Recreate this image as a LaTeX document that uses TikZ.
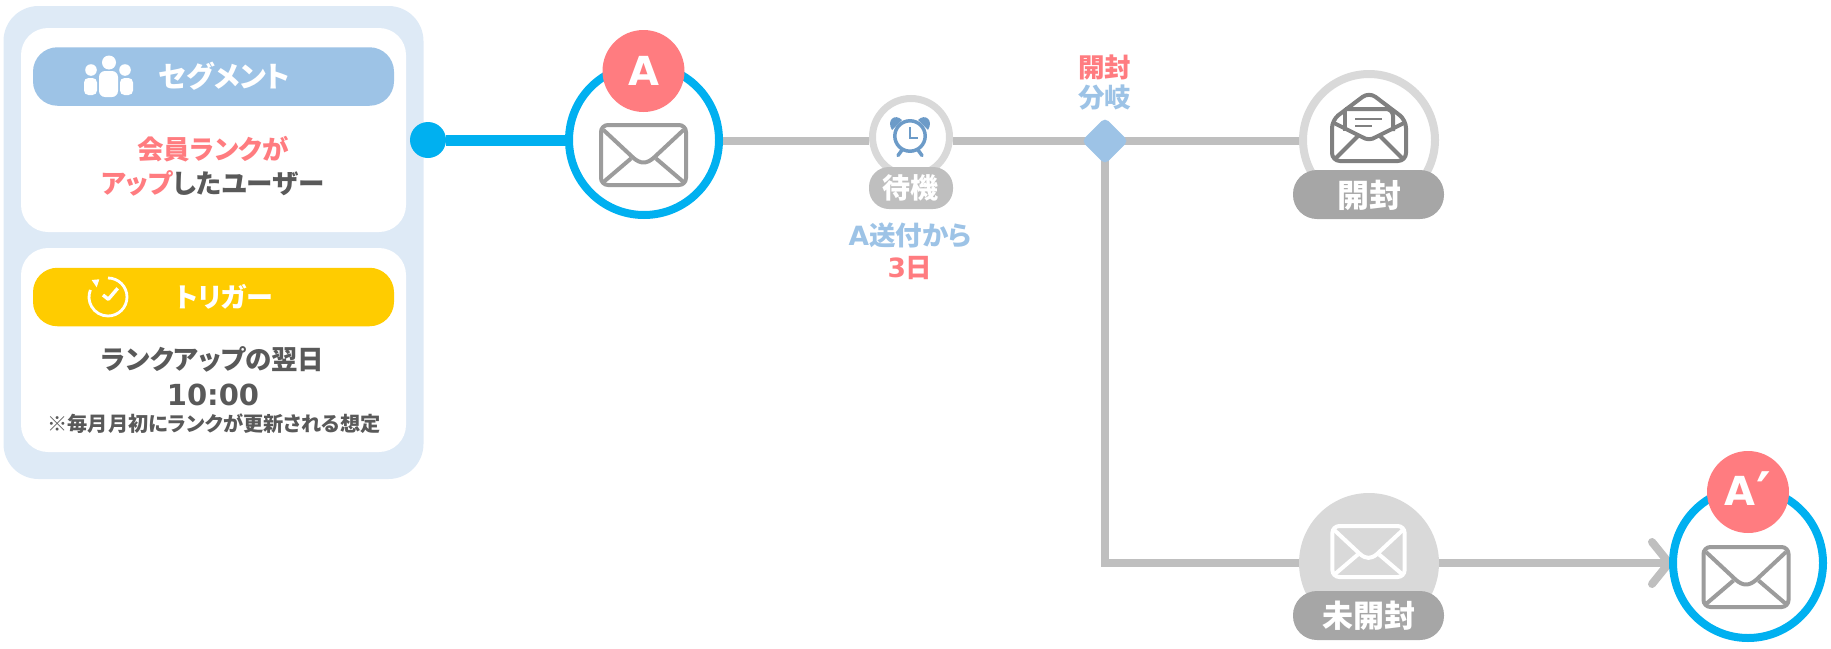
\documentclass[tikz,border=0pt]{standalone}
\usepackage{fontspec}
\usetikzlibrary{shapes.geometric,calc}
\newfontfamily\jp{Noto Sans CJK JP}[RawFeature={+palt}]
\newfontfamily\lat{DejaVu Sans}
\definecolor{panelc}{HTML}{DEEAF6}
\definecolor{bluec}{HTML}{9DC3E6}
\definecolor{pinkc}{HTML}{FF7C80}
\definecolor{cyanc}{HTML}{00B0F0}
\definecolor{linec}{HTML}{BFBFBF}
\definecolor{ringc}{HTML}{D9D9D9}
\definecolor{pillc}{HTML}{A6A6A6}
\definecolor{textc}{HTML}{595959}
\definecolor{yellowc}{HTML}{FFCC00}
\definecolor{alarmc}{HTML}{6C9BC8}
\pgfdeclarelayer{bg}
\pgfsetlayers{bg,main}
\tikzset{
  jptext/.style={inner sep=0pt,align=center,font=\jp\bfseries\fontsize{#1}{#1}\selectfont},
  jpline/.style 2 args={inner sep=0pt,align=center,font=\jp\bfseries\fontsize{#1}{#2}\selectfont},
  latin/.style={inner sep=0pt,align=center,font=\lat\bfseries\fontsize{#1}{#1}\selectfont},
  panelbox/.style={rounded corners=#1,inner sep=0pt},
  headpill/.style={fill=#1,rounded corners=24.5pt,minimum width=361pt,minimum height=58.5pt,inner sep=0pt},
  labelpill/.style={fill=#1,rounded corners=20pt,inner sep=0pt},
  ringnode/.style={circle,draw=#1,fill=white,inner sep=0pt},
  badge/.style={circle,fill=pinkc,minimum size=82pt,inner sep=0pt,text=white},
  conn/.style={draw=linec,line width=8pt},
  envelope/.pic={
    \draw[line width=4pt,draw=#1,rounded corners=7pt] (-42.5,-30) rectangle (42.5,30);
    \draw[line width=4pt,draw=#1,line join=round] (-40,-25) -- (-10,3) .. controls (-3,9) and (3,9) .. (10,3) -- (40,-25);
    \draw[line width=4pt,draw=#1] (-40,27) -- (-12.5,3.5) (40,27) -- (12.5,3.5);
  },
}
\begin{document}
\begin{tikzpicture}[x=1pt,y=-1pt]
\useasboundingbox (0,0) rectangle (1831,648);
% left panel
\node[panelbox=35pt,fill=panelc,minimum width=420pt,minimum height=473pt] (panel) at (213.5,242.5) {};
\node[panelbox=27pt,fill=white,minimum width=385pt,minimum height=204pt] (segbox) at (213.5,130) {};
\node[panelbox=27pt,fill=white,minimum width=385pt,minimum height=204pt] (trigbox) at (213.5,350) {};
\node[headpill=bluec] (segpill) at (213.5,76.5) {};
\node[headpill=yellowc] (trigpill) at (213.5,297) {};
\node[jptext=29,text=white] (segtxt) at (224.5,76) {セグメント};
\node[jptext=27,text=white] (trigtxt) at (224,297) {トリガー};
% people icon
\begin{scope}[fill=white]
  \fill (109,62.5) circle (7);
  \fill[rounded corners=6pt] (99,97) -- (99,71) -- (118,71) -- (118,97) -- cycle;
  \fill (91,70) circle (5.8);
  \fill (125,70) circle (5.8);
  \fill[rounded corners=4.5pt] (84,95) -- (84,78) -- (97,78) -- (97,95) -- cycle;
  \fill[rounded corners=4.5pt] (120,95) -- (120,78) -- (133,78) -- (133,95) -- cycle;
\end{scope}
% trigger icon
\draw[white,line width=2.8pt] (108,278) arc (-90:202:19);
\fill[white] (91.7,280) -- (99.3,279.3) -- (96.7,287.3) -- cycle;
\draw[white,line width=3.4pt,line join=round] (103,295) -- (108.3,299.3) -- (117.7,288.3);
\node[jpline={26.5}{34},text=textc] (segbody) at (213,166)
  {{\color{pinkc}会員ランクが}\\{\color{pinkc}アップ}したユーザー};
\node[jptext=26.5,text=textc] (trigbody) at (213,359) {ランクアップの翌日};
\node[latin=29,text=textc] (trigtime) at (213,395) {10:00};
\node[jptext=20.2,text=textc] (trignote) at (214,424) {※毎月月初にランクが更新される想定};
% start dot
\node[circle,fill=cyanc,minimum size=36pt,inner sep=0pt] (dot) at (428,140) {};
% node A
\node[ringnode=cyanc,line width=8pt,minimum size=150pt] (a) at (644,140) {};
\pic at (643.5,155) {envelope=black!39};
\node[badge,latin=40] (abadge) at (643.5,71) {\raisebox{-1.5pt}{A}};
% wait
\node[ringnode=ringc,line width=7pt,minimum size=77pt] (wait) at (911,137) {};
\begin{scope}[alarmc]
  \draw[line width=3.5pt] (910,136) circle (15.2);
  \draw[line width=2.2pt] (910,127) -- (910,138) -- (918,138);
  \fill (892,130) .. controls (886,120) and (895,113) .. (902,120) -- cycle;
  \fill (928,130) .. controls (934,120) and (925,113) .. (918,120) -- cycle;
  \draw[line width=3.5pt,line cap=round] (902,150) -- (898,155.5) (918,150) -- (922,155.5);
\end{scope}
\node[labelpill=linec,minimum width=84pt,minimum height=42pt] (waitpill) at (911,188) {};
\node[jptext=28,text=white] (waittxt) at (910.5,188) {待機};
\node[jptext=26.5,text=bluec] (waitinfo) at (910,235) {{\lat\bfseries A}送付から};
\node[jptext=26.5,text=pinkc] (waitdays) at (910,268) {{\lat\bfseries 3}日};
% branch
\node[diamond,aspect=1,fill=bluec,rounded corners=5pt,minimum width=47pt,minimum height=47pt,inner sep=0pt] (branch) at (1105,141) {};
\node[jptext=26.5,text=pinkc] (brtop) at (1104.5,67) {開封};
\node[jptext=26.5,text=bluec] (brbot) at (1104.5,98) {分岐};
% opened
\node[ringnode=ringc,line width=8pt,minimum size=132pt] (open) at (1369,140) {};
\begin{scope}[draw=black!50,line width=4pt,line join=round]
  \draw[rounded corners=7pt] (1345,109) -- (1393,109) -- (1393,131);
  \draw (1345,109) -- (1345,131);
  \draw[rounded corners=8pt] (1332,161) -- (1332,120) -- (1369,92) -- (1406,120) -- (1406,161) -- cycle;
  \draw (1334,123) -- (1362,137) .. controls (1367,140) and (1371,140) .. (1376,137) -- (1404,123);
  \draw (1336,158) -- (1358,136) (1402,158) -- (1380,136);
  \draw[line width=2.5pt] (1355,119) -- (1382,119) (1355,126) -- (1372,126);
\end{scope}
\node[labelpill=pillc,minimum width=151pt,minimum height=49pt,rounded corners=24pt] (openpill) at (1368.5,194.5) {};
\node[jptext=32,text=white] (opentxt) at (1369,195) {開封};
% unopened
\node[circle,fill=ringc,minimum size=140pt,inner sep=0pt] (unopen) at (1369,563) {};
\pic[scale=.85] at (1368.5,551.5) {envelope=white};
\node[labelpill=pillc,minimum width=151pt,minimum height=49pt,rounded corners=24pt] (unopenpill) at (1368.5,615.5) {};
\node[jptext=31,text=white] (unopentxt) at (1368.5,616) {未開封};
% node A'
\node[ringnode=cyanc,line width=8pt,minimum size=150pt] (aprime) at (1748,563) {};
\pic at (1746,577) {envelope=black!39};
\node[badge,latin=40] (apbadge) at (1748,492) {\raisebox{-1.5pt}{A\kern1pt\raisebox{-7pt}{\fontsize{56}{56}\selectfont ′}}};
% connectors
\begin{pgfonlayer}{bg}
  \draw[draw=cyanc,line width=11pt] (dot) -- (a);
  \draw[conn] (a.east |- branch.center) -- (wait.west |- branch.center);
  \draw[conn] (wait.east |- branch.center) -- (branch.center);
  \draw[conn] (branch.center) -- (open.west |- branch.center);
  \coordinate (corner) at (branch.center |- unopen.west);
  \draw[conn,line join=miter] (branch.center) -- (corner) -- (unopen.west);
  \draw[conn] (unopen) -- (aprime);
  \draw[conn,line cap=round,line join=round] ($(aprime.west)+(-17,-21)$) -- (aprime.west) -- ($(aprime.west)+(-17,21)$);
\end{pgfonlayer}
\end{tikzpicture}
\end{document}
